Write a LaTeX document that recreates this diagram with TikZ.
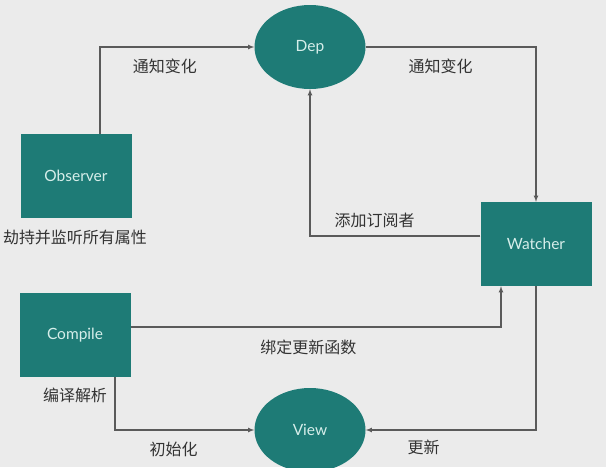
\documentclass[tikz,border=0pt]{standalone}
\usepackage{fontspec}
\setmainfont{Lato}
\newfontfamily\cjk{Noto Sans CJK SC}
\usepackage{tikz}
\usetikzlibrary{shapes,arrows,positioning}
\definecolor{teal}{HTML}{1E7B76}
\definecolor{boxtext}{HTML}{D6EEEA}
\definecolor{wire}{HTML}{5A5A5A}
\definecolor{paper}{HTML}{EBEBEB}
\tikzset{
  every node/.style={
    font=\fontsize{15.5}{17}\selectfont
  },
  module/.style={
    shape=rectangle,
    fill=teal,
    text=boxtext,
    minimum width=111pt,
    minimum height=84pt,
    inner sep=0pt
  },
  hub/.style={
    shape=ellipse,
    fill=teal,
    text=boxtext,
    minimum width=111pt,
    minimum height=84pt,
    inner sep=0pt
  },
  note/.style={
    font=\cjk\fontsize{16}{18}\selectfont,
    text=black!80
  },
  link/.style={
    draw=wire,
    line width=1.1pt,
    -latex
  }
}

\begin{document}
\begin{tikzpicture}[x=1pt,y=-1pt]

\fill [paper] (0,0) rectangle (606,467);
\useasboundingbox (0,0) rectangle (606,467);

\node [module] (observer) at (76,176) { Observer };
\node [hub] (dep) at (310,47) { Dep };
\node [module] (watcher) at (536,244) { Watcher };
\node [module] (compile) at (75,335) { Compile };
\node [hub] (view) at (310,430) { View };

\node [note] (obsnote) at (75,237) { 劫持并监听所有属性 };
\node [note] (compnote) at (75,395) { 编译解析 };

\draw [link] ([xshift=24pt]observer.north) |- (dep.west)
  node [note, pos=0.71, below=8pt] (notify1) { 通知变化 };
\draw [link] (dep.east) -| (watcher.north)
  node [note, pos=0.22, below=8pt] (notify2) { 通知变化 };
\draw [link] ([yshift=8pt]watcher.west) -| (dep.south)
  node [note, pos=0.31, above=4pt] (subscribe) { 添加订阅者 };
\draw [link] ([yshift=8pt]compile.east) -| ([xshift=-35pt]watcher.south)
  node [note, pos=0.24, below=9pt] (bind) { 绑定更新函数 };
\draw [link] ([xshift=40pt]compile.south) |- (view.west)
  node [note, pos=0.71, below=8pt] (init) { 初始化 };
\draw [link] (watcher.south) |- (view.east)
  node [note, pos=0.83, below=6pt] (update) { 更新 };

\end{tikzpicture}
\end{document}
